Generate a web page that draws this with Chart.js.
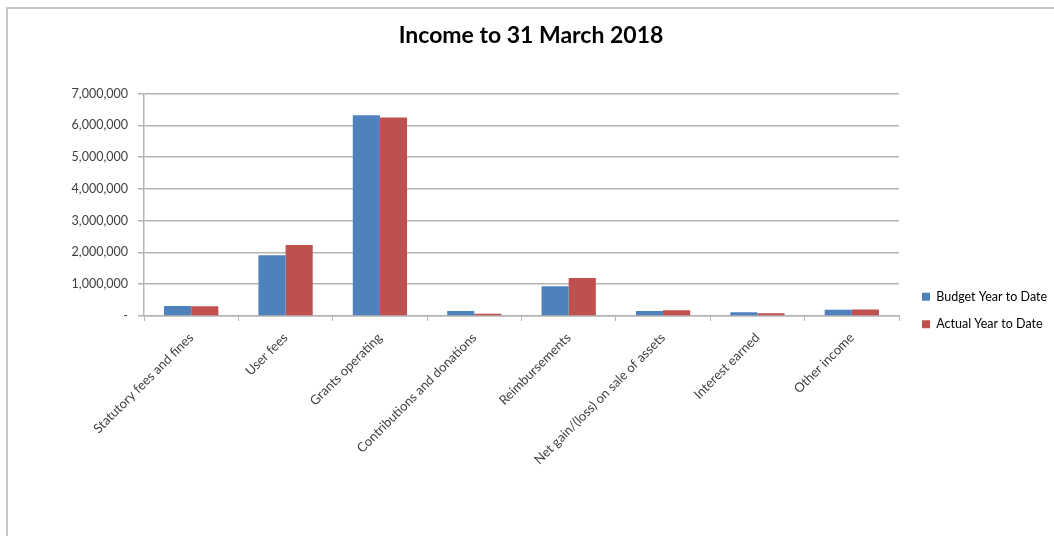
<!DOCTYPE html>
<html lang="en">
<head>
    <meta charset="UTF-8">
    <title>Income to 31 March 2018</title>
    <style>
      body { margin: 0; background: #fff; }
      #frame {
        position: absolute; left: 6px; top: 7px;
        width: 1046px; height: 527px;
        border-top: 2px solid #c6c6c6;
        border-left: 2px solid #c6c6c6;
      }
    </style>
</head>
<body>
    <div id="frame">
        <canvas id="grafico1" width="1046" height="527"></canvas>
    </div>
    <script src="https://cdn.jsdelivr.net/npm/chart.js"></script>
    <script>
      const categorias = ['Statutory fees and fines', 'User fees', 'Grants operating',
        'Contributions and donations', 'Reimbursements', 'Net gain/(loss) on sale of assets',
        'Interest earned', 'Other income'];
      const orcamento = [315000, 1910000, 6320000, 157000, 935000, 157000, 115000, 200000];
      const realizado = [305000, 2235000, 6245000, 73000, 1195000, 178000, 84000, 202000];
      const ticksY = [0, 1000000, 2000000, 3000000, 4000000, 5000000, 6000000, 7000000];

      const fonte = 'Lato, "Open Sans", sans-serif';
      const corGrade = '#b4b4b4';

      // empurra a legenda para o lugar do original (direita, mais abaixo)
      const posLegenda = {
        id: 'posLegenda',
        afterInit(chart) {
          const lg = chart.legend;
          const fit = lg.fit.bind(lg);
          lg.fit = function () { fit(); this.width = 155; };
        },
        afterLayout(chart) {
          chart.legend.left += 8;
          chart.legend.right += 8;
          chart.legend.top += 38;
          chart.legend.bottom += 38;
        }
      };

      const ctx = document.getElementById('grafico1');

      let grafico1 = new Chart(ctx, {
        type: 'bar',
        data: {
          labels: categorias,
          datasets: [{
            label: 'Budget Year to Date',
            data: orcamento,
            backgroundColor: '#4f81bd',
            barPercentage: 1,
            categoryPercentage: 0.575
          }, {
            label: 'Actual Year to Date',
            data: realizado,
            backgroundColor: '#c0504d',
            barPercentage: 1,
            categoryPercentage: 0.575
          }]
        },
        options: {
          responsive: false,
          animation: false,
          layout: { padding: 0 },
          plugins: {
            title: {
              display: true,
              text: 'Income to 31 March 2018',
              color: '#000',
              font: { family: fonte, size: 23, weight: 'bold' },
              padding: { top: 13, bottom: 44 }
            },
            legend: {
              position: 'right',
              labels: {
                boxWidth: 8,
                boxHeight: 8,
                padding: 15,
                color: '#000',
                font: { family: fonte, size: 12.5 }
              }
            },
            tooltip: { enabled: false }
          },
          scales: {
            x: {
              grid: {
                display: true,
                drawOnChartArea: false,
                color: corGrade,
                tickLength: 5
              },
              border: { color: corGrade, width: 1.5 },
              ticks: {
                minRotation: 45,
                maxRotation: 45,
                padding: 9,
                color: '#404040',
                font: { family: fonte, size: 13 }
              },
              afterFit(scale) { scale.height = 220; }
            },
            y: {
              min: 0,
              max: 7000000,
              afterBuildTicks(scale) {
                scale.ticks = ticksY.map(v => ({ value: v }));
              },
              grid: {
                color: corGrade,
                lineWidth: 1.5,
                tickLength: 6
              },
              border: { color: corGrade, width: 1.5 },
              ticks: {
                padding: 10,
                color: '#404040',
                font: { family: fonte, size: 12.5 },
                callback: v => v === 0 ? '-' : v.toLocaleString('en-US')
              },
              afterFit(scale) { scale.width = 136; }
            }
          }
        },
        plugins: [posLegenda]
      });
    </script>
</body>
</html>
